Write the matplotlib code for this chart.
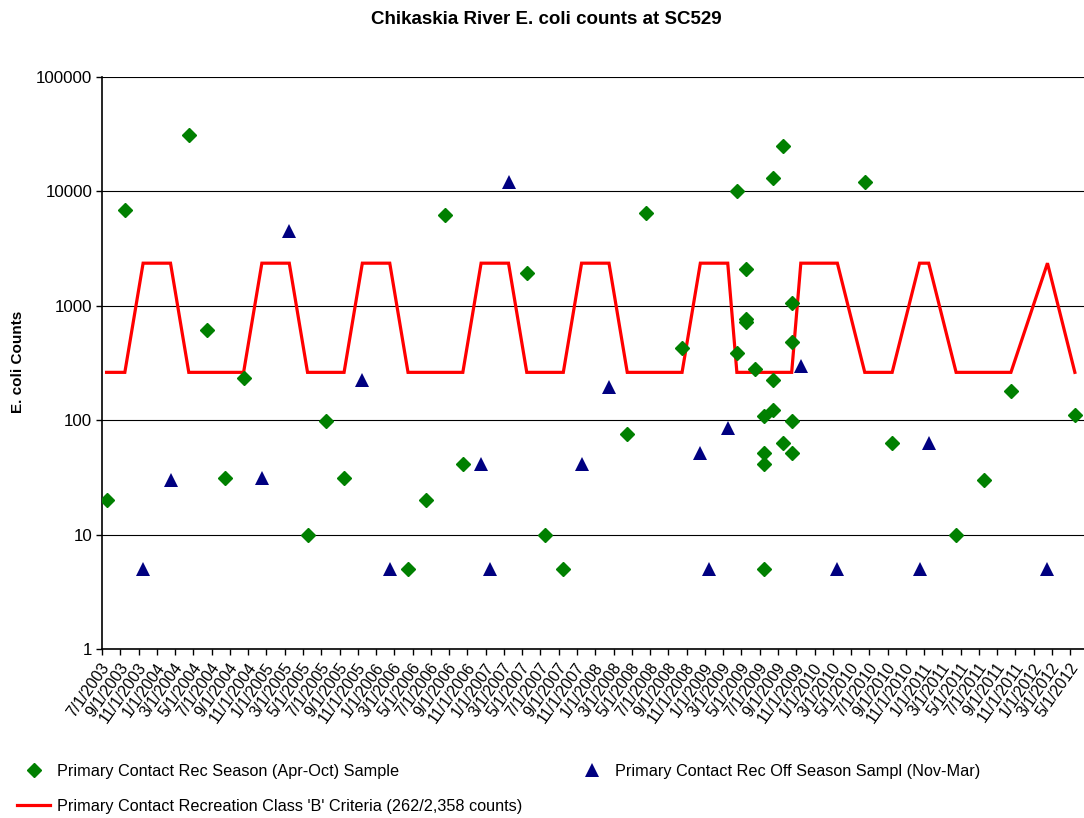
import matplotlib
matplotlib.use('Agg')
import matplotlib.pyplot as plt
from matplotlib.lines import Line2D
import pandas as pd

plt.rcParams['font.family'] = ['Liberation Sans', 'DejaVu Sans']

# samples taken in the recreation season (Apr-Oct)
season_months = ['2003-07', '2003-09', '2004-04', '2004-06', '2004-08', '2004-10',
                 '2005-05', '2005-07', '2005-09', '2006-04', '2006-06', '2006-08',
                 '2006-10', '2007-05', '2007-07', '2007-09', '2008-04', '2008-06',
                 '2008-10', '2009-04', '2009-04', '2009-05', '2009-05', '2009-05',
                 '2009-06', '2009-07', '2009-07', '2009-07', '2009-07', '2009-08',
                 '2009-08', '2009-08', '2009-09', '2009-09', '2009-10', '2009-10',
                 '2009-10', '2009-10', '2010-06', '2010-09', '2011-04', '2011-07',
                 '2011-10', '2012-05']
season_counts = [20, 6900, 31000, 610, 31, 235,
                 10, 98, 31, 5, 20, 6200,
                 41, 1950, 10, 5, 75, 6500,
                 430, 10000, 390, 2100, 760, 720,
                 283, 108, 52, 41, 5, 13000,
                 224, 122, 25000, 63, 1050, 485,
                 99, 52, 12000, 63, 10, 30,
                 180, 110]

# samples taken off season (Nov-Mar)
off_months = ['2003-11', '2004-02', '2004-12', '2005-03', '2005-11', '2006-02',
              '2006-12', '2007-01', '2007-03', '2007-11', '2008-02', '2008-12',
              '2009-01', '2009-03', '2009-11', '2010-03', '2010-12', '2011-01',
              '2012-02']
off_counts = [5, 30, 31, 4500, 225, 5,
              41, 5, 12000, 41, 195, 52,
              5, 85, 295, 5, 5, 63,
              5]

# criteria line, one point per sampled month
crit_months = ['2003-07', '2003-09', '2003-11', '2004-02', '2004-04', '2004-06',
               '2004-08', '2004-10', '2004-12', '2005-03', '2005-05', '2005-07',
               '2005-09', '2005-11', '2006-02', '2006-04', '2006-06', '2006-08',
               '2006-10', '2006-12', '2007-01', '2007-03', '2007-05', '2007-07',
               '2007-09', '2007-11', '2008-02', '2008-04', '2008-06', '2008-10',
               '2008-12', '2009-01', '2009-03', '2009-04', '2009-05', '2009-06',
               '2009-07', '2009-08', '2009-09', '2009-10', '2009-11', '2010-03',
               '2010-06', '2010-09', '2010-12', '2011-01', '2011-04', '2011-07',
               '2011-10', '2012-02', '2012-05']
crit_values = [262, 262, 2358, 2358, 262, 262,
               262, 262, 2358, 2358, 262, 262,
               262, 2358, 2358, 262, 262, 262,
               262, 2358, 2358, 2358, 262, 262,
               262, 2358, 2358, 262, 262, 262,
               2358, 2358, 2358, 262, 262, 262,
               262, 262, 262, 262, 2358, 2358,
               262, 262, 2358, 2358, 262, 262,
               262, 2358, 262]

tick_dates = pd.date_range('2003-07-01', '2012-05-01', freq='2MS')
tick_labels = [f'{d.month}/1/{d.year}' for d in tick_dates]


def month_index(s):
    y, m = s.split('-')
    return (int(y) - 2003) * 12 + int(m) - 7


fig = plt.figure(figsize=(10.84, 8.18), dpi=100)
ax = fig.add_axes([102 / 1084, 1 - 649 / 818, 1 - 102 / 1084, (649 - 77) / 818])

ax.plot([month_index(m) for m in crit_months], crit_values, color='#FF0000', lw=2.3,
        zorder=2, solid_joinstyle='miter')
ax.plot([month_index(m) for m in season_months], season_counts, 'D', color='#008000',
        ms=7, mec='#008000', zorder=3)
ax.plot([month_index(m) for m in off_months], off_counts, '^', color='#000080',
        ms=9.8, mec='#000080', mew=0, zorder=3)

ax.set_yscale('log')
ax.set_ylim(1, 100000)
ax.set_xlim(-0.5, 107.0)
ax.set_yticks([1, 10, 100, 1000, 10000, 100000])
ax.set_yticklabels(['1', '10', '100', '1000', '10000', '100000'])
ax.yaxis.set_minor_locator(matplotlib.ticker.NullLocator())
ax.grid(axis='y', color='black', lw=0.8)
ax.set_axisbelow(True)

centers = [2 * k for k in range(len(tick_labels))]
ax.set_xticks([c - 0.5 for c in centers])
ax.set_xticklabels([])
ax.set_xticks(centers, minor=True)
ax.set_xticklabels(tick_labels, minor=True, rotation=55, ha='right', va='center',
                   rotation_mode='anchor', fontsize=11.5)
ax.tick_params(axis='x', which='major', length=4, width=1, direction='out')
ax.tick_params(axis='x', which='minor', length=0, pad=11)
ax.tick_params(axis='y', which='major', length=4, width=1, direction='out',
               labelsize=12.2, pad=3)

for side in ['top', 'right']:
    ax.spines[side].set_visible(False)
for side in ['left', 'bottom']:
    ax.spines[side].set_color('black')
    ax.spines[side].set_linewidth(1.2)

fig.text(546 / 1084, 1 - 19 / 818, 'Chikaskia River E. coli counts at SC529',
         ha='center', va='center', fontsize=13.5, fontweight='bold')
fig.text(18 / 1084, 1 - 362 / 818, 'E. coli Counts', rotation=90,
         ha='center', va='center', fontsize=11, fontweight='bold')

h_season = Line2D([], [], marker='D', color='#008000', ls='none', ms=7)
h_crit = Line2D([], [], color='#FF0000', lw=2.3)
h_off = Line2D([], [], marker='^', color='#000080', ls='none', ms=9.8, mew=0)

fig.legend([h_season, h_crit],
           ['Primary Contact Rec Season (Apr-Oct) Sample',
            "Primary Contact Recreation Class 'B' Criteria (262/2,358 counts)"],
           loc='upper left', bbox_to_anchor=(17 / 1084, 1 - 764 / 818),
           frameon=False, fontsize=11.7, handlelength=2.05, handletextpad=0.42,
           labelspacing=1.2, borderpad=0, borderaxespad=0)
fig.legend([h_off], ['Primary Contact Rec Off Season Sampl (Nov-Mar)'],
           loc='upper left', bbox_to_anchor=(575 / 1084, 1 - 764 / 818),
           frameon=False, fontsize=11.7, handlelength=2.05, handletextpad=0.42,
           borderpad=0, borderaxespad=0)

fig.savefig('out.png', dpi=100)
